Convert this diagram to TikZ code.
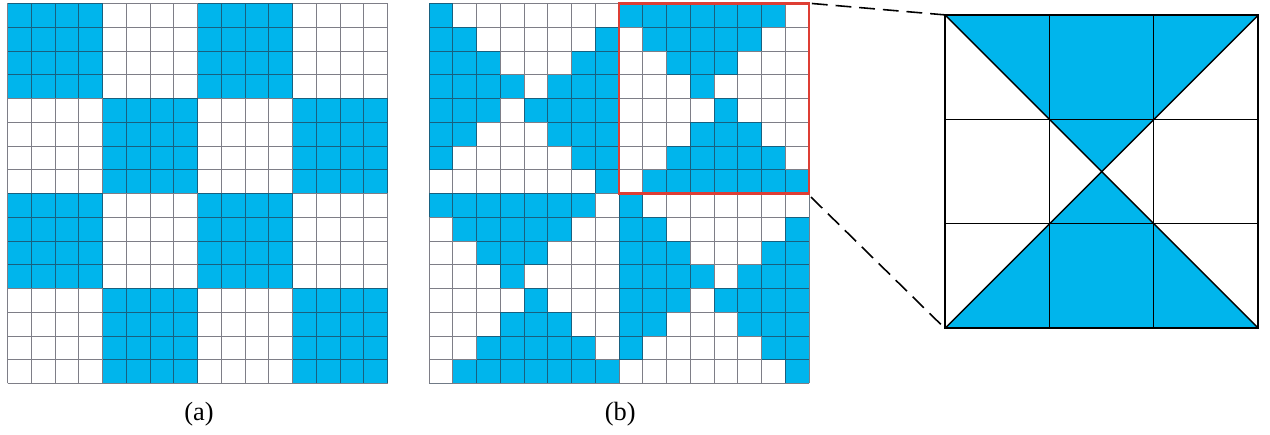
\documentclass[tikz,border=0pt]{standalone}
\usepackage{fontspec}
\setmainfont{Liberation Serif}
\usepackage{tikz}
\usetikzlibrary{calc}
\definecolor{cellblue}{RGB}{0,181,236}
\definecolor{boxred}{RGB}{222,62,52}
\definecolor{gridgray}{RGB}{40,40,55}

\begin{document}
\begin{tikzpicture}[x=0.475cm,y=0.475cm,
    gridline/.style={color=gridgray,draw opacity=0.6,line width=0.55pt,step=0.475cm},
    zoombox/.style={color=boxred,line width=1.3pt},
    zoomline/.style={black,line width=0.9pt,dash pattern=on 9pt off 4.5pt},
    caption/.style={font=\fontsize{15}{18}\selectfont,inner sep=0pt}]
        \useasboundingbox (-0.316,-2.168) rectangle (53.158,16.147);
        % (a) checkerboard of 4x4 blocks
        \foreach \i in {0,...,3} {
            \foreach \j in {0,...,3} {
                \pgfmathtruncatemacro{\parity}{mod(\i+\j,2)}
                \ifnum\parity=0
                    \fill[cellblue] (4*\i,16-4*\j) rectangle ++(4,-4);
                \fi
            }
        }
        \draw[gridline] (0,0) grid (16,16);
        % (b) hourglass quadrants
        \begin{scope}[shift={(17.75,0)}]
            \foreach \ox/\oy in {0/16,8/8} {
                \foreach \r/\l/\s in {0/1/8,1/2/7,2/3/6,3/4/5,4/3/4,5/2/5,6/1/6,7/0/7} {
                    \fill[cellblue] (\ox,\oy-\r) rectangle (\ox+\l,\oy-\r-1);
                    \fill[cellblue] (\ox+\s,\oy-\r) rectangle (\ox+8,\oy-\r-1);
                }
            }
            \foreach \ox/\oy in {8/16,0/8} {
                \foreach \r/\l/\s in {0/1/8,1/2/7,2/3/6,3/4/5,4/3/4,5/2/5,6/1/6,7/0/7} {
                    \fill[cellblue] (\ox+\r,\oy) rectangle (\ox+\r+1,\oy-\l);
                    \fill[cellblue] (\ox+\r,\oy-\s) rectangle (\ox+\r+1,\oy-8);
                }
            }
            \draw[gridline] (0,0) grid (16,16);
            \draw[zoombox] (8,8) rectangle (16,16);
            \coordinate (boxNE) at (16,16);
            \coordinate (boxSE) at (16,8);
        \end{scope}
        % enlarged block
        \begin{scope}[shift={(39.47,2.32)}]
            \fill[cellblue] (0,13.2) -- (13.2,13.2) -- (6.6,6.6) -- cycle;
            \fill[cellblue] (0,0) -- (13.2,0) -- (6.6,6.6) -- cycle;
            \draw[black,line width=0.5pt] (4.4,0) -- (4.4,13.2) (8.8,0) -- (8.8,13.2)
                (0,4.4) -- (13.2,4.4) (0,8.8) -- (13.2,8.8);
            \draw[black,line width=0.8pt] (0,0) -- (13.2,13.2) (0,13.2) -- (13.2,0);
            \draw[black,line width=1.1pt] (0,0) rectangle (13.2,13.2);
            \coordinate (bigNW) at (0,13.2);
            \coordinate (bigSW) at (0,0);
        \end{scope}
        \draw[zoomline] ($(boxNE)+(0.12,0)$) -- (bigNW);
        \draw[zoomline] ($(boxSE)+(0.08,-0.15)$) -- (bigSW);
        \node[caption] (capa) at (8.06,-1.28) {(a)};
        \node[caption] (capb) at (25.8,-1.28) {(b)};
    \end{tikzpicture}
\end{document}
